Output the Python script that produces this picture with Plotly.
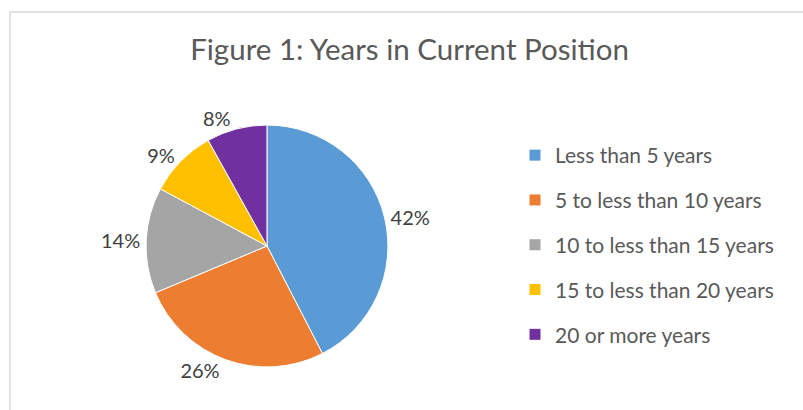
import plotly.graph_objects as go

categories = ["Less than 5 years", "5 to less than 10 years", "10 to less than 15 years",
              "15 to less than 20 years", "20 or more years"]
percents = [42, 26, 14, 9, 8]
colors = ["#5B9BD5", "#ED7D31", "#A5A5A5", "#FFC000", "#7030A0"]
title_text = "Figure 1: Years in Current Position"

W, H = 803, 410
FONT = "Lato, Open Sans, sans-serif"

fig = go.Figure()
fig.add_trace(go.Pie(
    labels=categories, values=percents, sort=False, direction="clockwise", rotation=0,
    marker=dict(colors=colors, line=dict(color="white", width=1)),
    texttemplate="%{value}%", textposition="outside",
    textfont=dict(size=20, color="#404040", family=FONT),
    showlegend=False, hoverinfo="label+value",
    domain=dict(x=[0.10, 0.565], y=[0.105, 0.695]),
))
for i, (c, col) in enumerate(zip(categories, colors)):
    fig.add_trace(go.Scatter(
        x=[None], y=[None], mode="markers", name=c, legendgroup=f"g{i}",
        marker=dict(symbol="square", size=11, color=col), showlegend=True,
    ))

fig.update_layout(
    width=W, height=H, margin=dict(l=0, r=0, t=0, b=0, autoexpand=False),
    paper_bgcolor="white", plot_bgcolor="white",
    title=dict(text=title_text, x=0.51, xanchor="center", y=1 - 50 / H, yanchor="middle",
               font=dict(size=29.5, color="#595959", family=FONT)),
    xaxis=dict(visible=False), yaxis=dict(visible=False),
    legend=dict(x=515 / W, xanchor="left", y=1 - 135 / H, yanchor="top",
                traceorder="grouped", tracegroupgap=14.5,
                font=dict(size=21, color="#595959", family=FONT), bgcolor="rgba(0,0,0,0)"),
    shapes=[dict(type="rect", xref="paper", yref="paper", x0=10 / W, x1=1.05,
                 y0=-0.05, y1=1 - 12 / H, line=dict(color="#D9D9D9", width=1.5))],
)
fig.write_html("out.html", config={"displayModeBar": False},
               post_script="document.body.style.margin='0';")
